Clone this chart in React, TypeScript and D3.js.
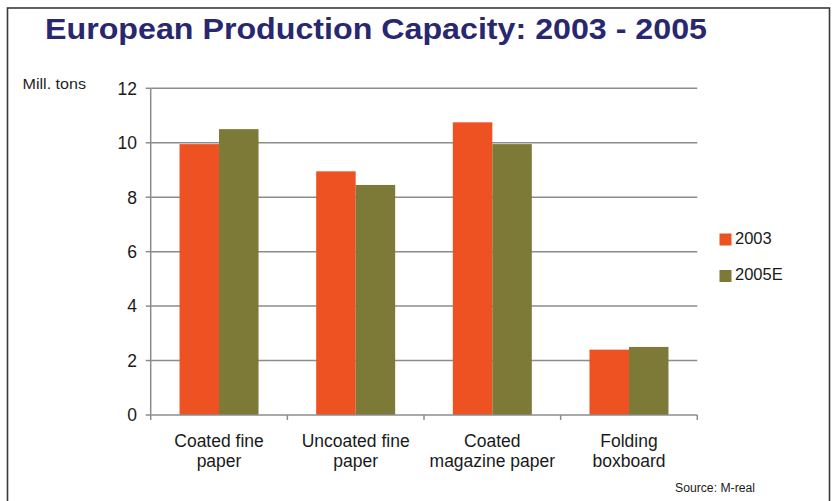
import React from "react";
import * as d3 from "d3";

const categories: string[][] = [
  ["Coated fine", "paper"],
  ["Uncoated fine", "paper"],
  ["Coated", "magazine paper"],
  ["Folding", "boxboard"],
];
const seriesNames = ["2003", "2005E"];
const values2003 = [9.95, 8.95, 10.75, 2.4];
const values2005E = [10.5, 8.45, 9.95, 2.5];
const yTicks = [0, 2, 4, 6, 8, 10, 12];
const colors = ["#EE5122", "#7C7A36"];

const W = 834;
const H = 501;
const left = 150.7;
const right = 697.3;
const top = 88.3;
const bottom = 415;

export default function App() {
  const keys = categories.map((c) => c.join(" "));
  const x = d3.scaleBand<string>().domain(keys).range([left, right]).paddingInner(0).paddingOuter(0);
  const x1 = d3
    .scaleBand<string>()
    .domain(seriesNames)
    .range([0, x.bandwidth()])
    .paddingInner(0)
    .paddingOuter(0.73);
  const y = d3.scaleLinear().domain([0, 12]).range([bottom, top]);
  const series = [values2003, values2005E];
  const font = "'Liberation Sans', Arial, sans-serif";
  const grid = "#8c8c8c";
  const boundaries = [...keys.map((k) => x(k) as number), right];

  return (
    <div style={{ position: "absolute", left: 0, top: 0 }}>
      <svg width={W} height={H} style={{ display: "block", background: "#fff" }} fontFamily={font}>
        <rect x={7.5} y={8} width={822} height={H} fill="#fff" stroke="#3a3a3a" strokeWidth={1.6} />
        <text
          x={45}
          y={38.5}
          fontSize={30}
          fontWeight="bold"
          fill="#28276F"
          textLength={662}
          lengthAdjust="spacingAndGlyphs"
        >
          European Production Capacity: 2003 - 2005
        </text>
        <text x={22.5} y={89} fontSize={14.5} fill="#1e1e1e" textLength={63.5} lengthAdjust="spacingAndGlyphs">
          Mill. tons
        </text>
        {yTicks.map((t) => (
          <g key={t}>
            {t > 0 && (
              <line x1={left} x2={right} y1={y(t)} y2={y(t)} stroke={grid} strokeWidth={1.5} />
            )}
            <line x1={left - 5} x2={left} y1={y(t)} y2={y(t)} stroke={grid} strokeWidth={1.5} />
            <text x={137} y={y(t) + 6.3} fontSize={17.5} textAnchor="end" fill="#1a1a1a">
              {t}
            </text>
          </g>
        ))}
        {keys.map((k, i) =>
          series.map((vals, s) => (
            <rect
              key={k + s}
              x={(x(k) as number) + (x1(seriesNames[s]) as number)}
              y={y(vals[i])}
              width={x1.bandwidth()}
              height={bottom - y(vals[i])}
              fill={colors[s]}
            />
          ))
        )}
        <line x1={left} x2={left} y1={top} y2={bottom} stroke={grid} strokeWidth={1.5} />
        <line x1={left} x2={right} y1={bottom} y2={bottom} stroke={grid} strokeWidth={1.5} />
        {boundaries.map((b, i) => (
          <line key={i} x1={b} x2={b} y1={bottom} y2={bottom + 5} stroke={grid} strokeWidth={1.5} />
        ))}
        {categories.map((c, i) => {
          const cx = (x(keys[i]) as number) + x.bandwidth() / 2;
          return (
            <text key={i} x={cx} textAnchor="middle" fontSize={17.5} fill="#1a1a1a">
              <tspan x={cx} y={446.7}>
                {c[0]}
              </tspan>
              <tspan x={cx} y={467}>
                {c[1]}
              </tspan>
            </text>
          );
        })}
        {seriesNames.map((n, s) => (
          <g key={n}>
            <rect x={719.5} y={233.5 + s * 36.5} width={12} height={12} fill={colors[s]} />
            <text x={735} y={243.5 + s * 36.5} fontSize={16.5} fill="#1a1a1a">
              {n}
            </text>
          </g>
        ))}
        <text x={675} y={492} fontSize={12} fill="#1a1a1a" textLength={80} lengthAdjust="spacingAndGlyphs">
          Source: M-real
        </text>
      </svg>
    </div>
  );
}
